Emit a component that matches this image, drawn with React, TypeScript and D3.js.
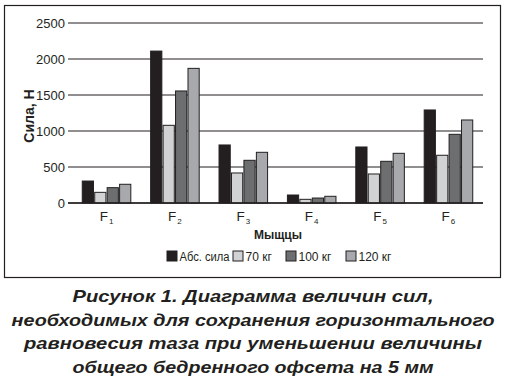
import React from "react";
import * as d3 from "d3";

const categories = ["1", "2", "3", "4", "5", "6"];
const seriesNames = ["Абс. сила", "70 кг", "100 кг", "120 кг"];
const absForce = [305, 2110, 806, 111, 778, 1292];
const kg70 = [148, 1079, 417, 51, 403, 663];
const kg100 = [213, 1556, 593, 69, 579, 954];
const kg120 = [260, 1870, 704, 93, 690, 1153];
const yTicks = [0, 500, 1000, 1500, 2000, 2500];
const captionLines = [
  "Рисунок 1. Диаграмма величин сил,",
  "необходимых для сохранения горизонтального",
  "равновесия таза при уменьшении величины",
  "общего бедренного офсета на 5 мм",
];

const series = [absForce, kg70, kg100, kg120];
const colors = ["#231f20", "#d1d2d4", "#6d6e70", "#a7a9ac"];
const legendX = [167, 233, 286, 346];
const legendTextW = [50, 0, 0, 0];
const captionWidths = [361, 483, 458, 361];

export default function App() {
  const W = 505, H = 378;
  const x = d3.scaleBand<string>().domain(categories).range([72, 483]).paddingInner(0.29).paddingOuter(0.15);
  const xi = d3.scaleBand<number>().domain([0, 1, 2, 3]).range([0, x.bandwidth()]).paddingInner(0.1);
  const y = d3.scaleLinear().domain([0, 2500]).range([203, 23]);
  const font = "'Liberation Sans', Arial, sans-serif";

  return (
    <svg width={W} height={H} style={{ position: "absolute", left: 0, top: 0 }} fontFamily={font}>
      <rect x={0} y={0} width={W} height={H} fill="#fff" />
      <rect x={4.5} y={5.5} width={496} height={272} fill="none" stroke="#231f20" strokeWidth={1.2} />
      {yTicks.map((t) => (
        <g key={t}>
          <line x1={68} x2={483} y1={y(t)} y2={y(t)} stroke="#231f20" strokeWidth={1.1} />
          <text x={65} y={y(t)} dy="0.35em" textAnchor="end" fontSize={13} fill="#231f20">{t}</text>
        </g>
      ))}
      {categories.map((c, ci) => (
        <g key={c} transform={`translate(${x(c)},0)`}>
          {series.map((s, si) => (
            <rect key={si} x={xi(si)} y={y(s[ci])} width={xi.bandwidth()} height={y(0) - y(s[ci])}
              fill={colors[si]} stroke="#231f20" strokeWidth={1} />
          ))}
        </g>
      ))}
      <line x1={68} x2={483} y1={y(0)} y2={y(0)} stroke="#231f20" strokeWidth={1.3} />
      {categories.map((c) => (
        <text key={c} x={(x(c) ?? 0) + x.bandwidth() / 2} y={221} textAnchor="middle" fontSize={13.5} fill="#231f20">
          F<tspan fontSize={8} dx={1} dy={2.5}>{c}</tspan>
        </text>
      ))}
      <text x={278} y={239} textAnchor="middle" fontSize={12} fontWeight="bold" fill="#231f20">Мыщцы</text>
      <text transform="translate(34,116) rotate(-90)" textAnchor="middle" fontSize={14} fontWeight="bold" fill="#231f20">Сила, Н</text>
      {seriesNames.map((n, i) => (
        <g key={n}>
          <rect x={legendX[i]} y={251} width={10} height={10} fill={colors[i]} stroke="#231f20" strokeWidth={1} />
          <text x={legendX[i] + 12.5} y={260.5} fontSize={12} fill="#231f20"
            {...(legendTextW[i] ? { textLength: legendTextW[i], lengthAdjust: "spacingAndGlyphs" } : {})}>{n}</text>
        </g>
      ))}
      {captionLines.map((l, i) => (
        <text key={i} x={253} y={302 + i * 23.6} textAnchor="middle" fontSize={17} fontWeight="bold" fontStyle="italic"
          fill="#231f20" textLength={captionWidths[i]} lengthAdjust="spacingAndGlyphs">{l}</text>
      ))}
    </svg>
  );
}
